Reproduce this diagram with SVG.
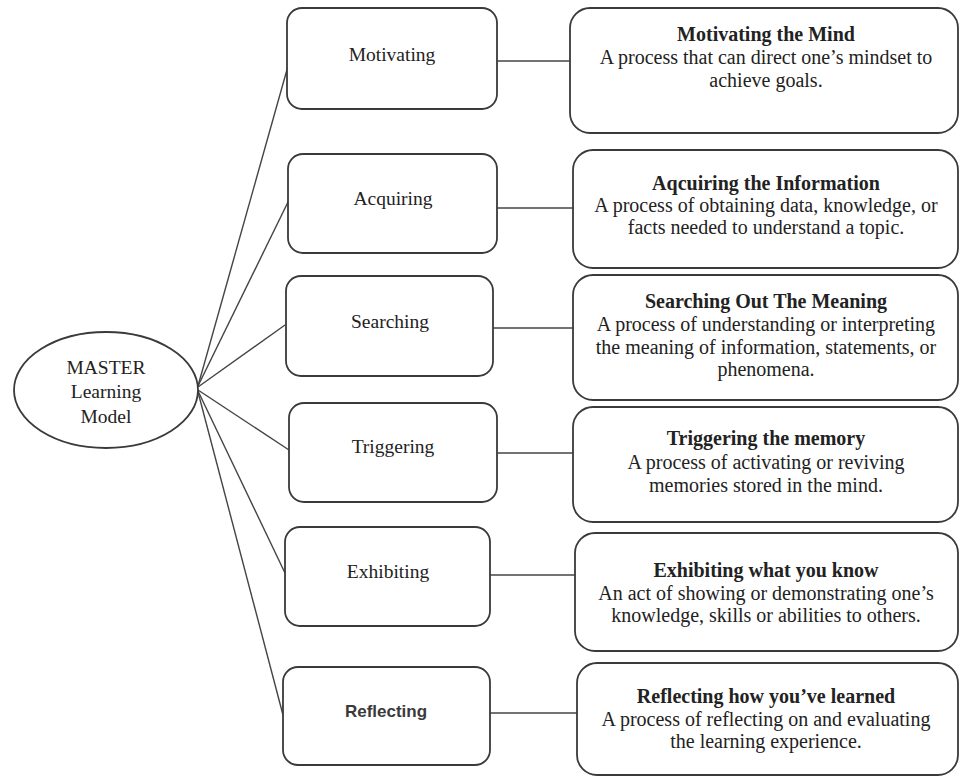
<svg xmlns="http://www.w3.org/2000/svg" width="960" height="777" viewBox="0 0 960 777">
<style>
.bg{fill:#ffffff}
.box{fill:#ffffff;stroke:#3a3a3a;stroke-width:1.8}
.conn{fill:none;stroke:#444;stroke-width:1.4}
.t{font-family:"Liberation Serif","Times New Roman",serif;font-size:19.5px;fill:#222;text-anchor:middle}
.d{font-size:20px}
.h{font-weight:bold}
.s{font-family:"Liberation Sans",Arial,sans-serif;font-size:17px;fill:#3a3a3a;text-anchor:middle;font-weight:bold}
</style>
<rect class="bg" x="0" y="0" width="960" height="777"/>
<g id="connectors">
<line class="conn" x1="198" y1="386" x2="288" y2="66"/>
<line class="conn" x1="198" y1="386" x2="289" y2="200"/>
<line class="conn" x1="198" y1="387" x2="285" y2="325"/>
<line class="conn" x1="198" y1="390" x2="289" y2="450"/>
<line class="conn" x1="198" y1="391" x2="285" y2="573"/>
<line class="conn" x1="198" y1="392" x2="283" y2="715"/>
<line class="conn" x1="497" y1="61" x2="570" y2="61"/>
<line class="conn" x1="497" y1="208" x2="573" y2="208"/>
<line class="conn" x1="493" y1="328" x2="573" y2="328"/>
<line class="conn" x1="497" y1="453" x2="573" y2="453"/>
<line class="conn" x1="490" y1="575" x2="575" y2="575"/>
<line class="conn" x1="490" y1="713" x2="577" y2="713"/>
</g>
<g id="master">
<ellipse class="box" cx="106" cy="390" rx="92" ry="58"/>
<text class="t" x="106" y="374">MASTER</text>
<text class="t" x="106" y="398">Learning</text>
<text class="t" x="106" y="423">Model</text>
</g>
<g id="motivating">
<rect class="box" x="287" y="8" width="210" height="101" rx="15"/>
<text class="t" x="392" y="61">Motivating</text>
</g>
<g id="acquiring">
<rect class="box" x="288" y="154" width="209" height="99" rx="15"/>
<text class="t" x="393" y="205">Acquiring</text>
</g>
<g id="searching">
<rect class="box" x="286" y="276" width="207" height="100" rx="15"/>
<text class="t" x="390" y="328">Searching</text>
</g>
<g id="triggering">
<rect class="box" x="289" y="403" width="208" height="99" rx="15"/>
<text class="t" x="393" y="453">Triggering</text>
</g>
<g id="exhibiting">
<rect class="box" x="285" y="527" width="205" height="99" rx="15"/>
<text class="t" x="388" y="578">Exhibiting</text>
</g>
<g id="reflecting">
<rect class="box" x="283" y="667" width="207" height="98" rx="15"/>
<text class="s" x="386" y="717">Reflecting</text>
</g>
<g id="motivating-desc">
<rect class="box" x="570" y="8" width="388" height="125" rx="20"/>
<text class="t d h" x="766" y="41">Motivating the Mind</text>
<text class="t d" x="766" y="64">A process that can direct one’s mindset to</text>
<text class="t d" x="766" y="87">achieve goals.</text>
</g>
<g id="acquiring-desc">
<rect class="box" x="573" y="150" width="385" height="118" rx="20"/>
<text class="t d h" x="766" y="190">Aqcuiring the Information</text>
<text class="t d" x="766" y="212">A process of obtaining data, knowledge, or</text>
<text class="t d" x="766" y="234">facts needed to understand a topic.</text>
</g>
<g id="searching-desc">
<rect class="box" x="573" y="275" width="385" height="125" rx="20"/>
<text class="t d h" x="766" y="308">Searching Out The Meaning</text>
<text class="t d" x="766" y="331">A process of understanding or interpreting</text>
<text class="t d" x="766" y="354">the meaning of information, statements, or</text>
<text class="t d" x="766" y="376">phenomena.</text>
</g>
<g id="triggering-desc">
<rect class="box" x="573" y="407" width="385" height="115" rx="20"/>
<text class="t d h" x="766" y="445">Triggering the memory</text>
<text class="t d" x="766" y="469">A process of activating or reviving</text>
<text class="t d" x="766" y="492">memories stored in the mind.</text>
</g>
<g id="exhibiting-desc">
<rect class="box" x="575" y="533" width="383" height="118" rx="20"/>
<text class="t d h" x="766" y="577">Exhibiting what you know</text>
<text class="t d" x="766" y="600">An act of showing or demonstrating one’s</text>
<text class="t d" x="766" y="622">knowledge, skills or abilities to others.</text>
</g>
<g id="reflecting-desc">
<rect class="box" x="577" y="663" width="381" height="112" rx="20"/>
<text class="t d h" x="766" y="703">Reflecting how you’ve learned</text>
<text class="t d" x="766" y="726">A process of reflecting on and evaluating</text>
<text class="t d" x="766" y="748">the learning experience.</text>
</g>
</svg>
